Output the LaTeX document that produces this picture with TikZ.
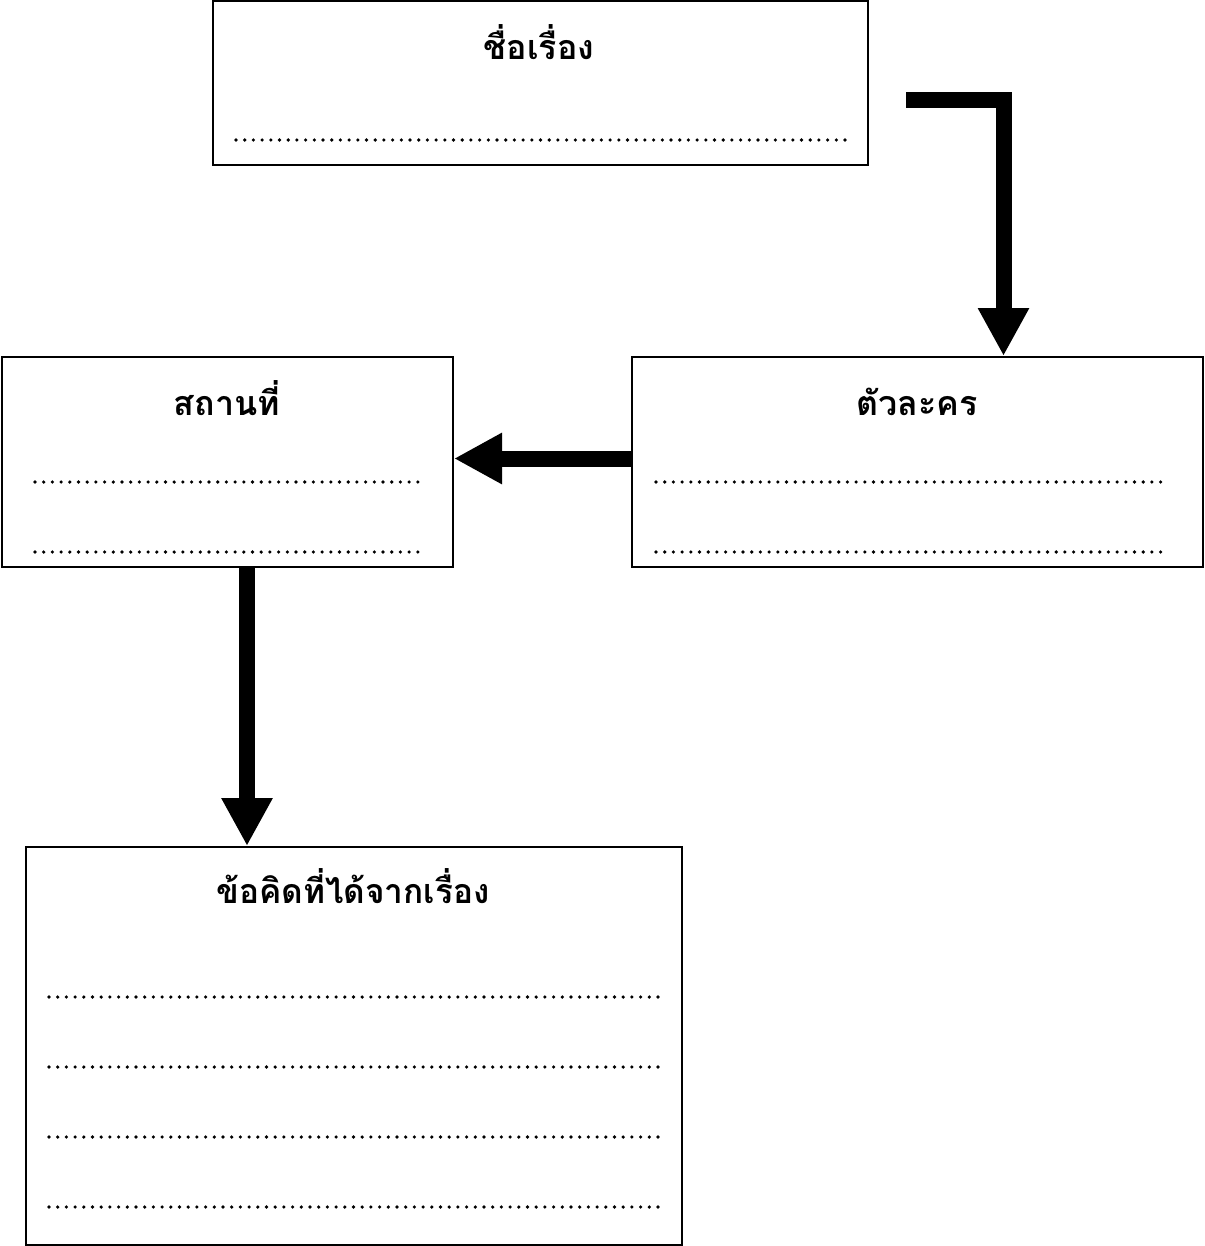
\documentclass[tikz,border=0pt]{standalone}
\usepackage{fontspec}
\newfontfamily\thaifont[Script=Thai]{Loma}
\usetikzlibrary{arrows.meta}
\begin{document}
\begin{tikzpicture}[x=1pt,y=-1pt,
  boxst/.style={draw=black,line width=2pt,fill=white,inner sep=0pt,rectangle},
  titlest/.style={anchor=base,font=\thaifont\bfseries\fontsize{34}{40}\selectfont,inner sep=0pt},
  dotline/.style={line width=3.6pt,line cap=round,dash pattern=on 0pt off 8.7pt},
  bigarrow/.style={line width=16pt,line join=miter,-{Triangle[length=48pt,width=48pt]}}]
\useasboundingbox (0,0) rectangle (1204,1246);
% boxes
\node[boxst,minimum width=655pt,minimum height=164pt] (titlebox) at (540.5,83) {};
\node[boxst,minimum width=451pt,minimum height=210pt] (leftbox) at (227.5,462) {};
\node[boxst,minimum width=571pt,minimum height=210pt] (rightbox) at (917.5,462) {};
\node[boxst,minimum width=656pt,minimum height=398pt] (bottombox) at (354,1046) {};
% titles
\node[titlest] (t1) at (539,60) {ชื่อเรื่อง};
\node[titlest] (t2) at (227,415) {สถานที่};
\node[titlest] (t3) at (917,415) {ตัวละคร};
\node[titlest,xscale=0.98] (t4) at (353,903) {ข้อคิดที่ได้จากเรื่อง};
% dotted lines
\draw[dotline] (236,140) -- (845,140);
\draw[dotline] (35,482) -- (422,482);
\draw[dotline] (35,552) -- (422,552);
\draw[dotline] (656,482) -- (1163,482);
\draw[dotline] (656,552) -- (1163,552);
\foreach \yy in {997,1067,1137,1207}{\draw[dotline] (49,\yy) -- (660,\yy);}
% arrows
\coordinate (a1start) at (906,100);
\draw[bigarrow] (a1start) -| ([xshift=86pt]rightbox.north);
\draw[bigarrow] ([yshift=3.5pt]rightbox.west) -- ([yshift=3.5pt]leftbox.east);
\draw[bigarrow] ([xshift=19.5pt]leftbox.south) -- ([xshift=19.5pt]leftbox.south |- bottombox.north);
\end{tikzpicture}
\end{document}
